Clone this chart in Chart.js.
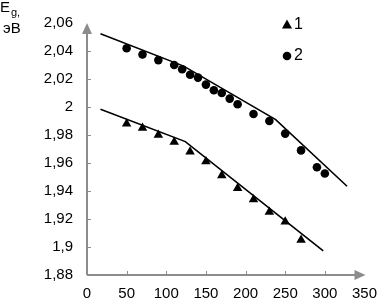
<!DOCTYPE html>
<html>
<head>
<meta charset="utf-8">
<script src="https://cdn.jsdelivr.net/npm/chart.js@4"></script>
<style>
  html, body { margin: 0; padding: 0; background: #fff; }
  #wrap { width: 387px; height: 301px; position: relative; }
</style>
</head>
<body>
<div id="wrap"><canvas id="chart"></canvas></div>
<script>
// measured points, sample 1 (triangles)
var x1 = [50, 70, 90, 110, 130, 150, 170, 190, 210, 230, 250, 270];
var y1 = [1.988, 1.985, 1.980, 1.975, 1.968, 1.961, 1.951, 1.942, 1.934, 1.925, 1.918, 1.905];

// measured points, sample 2 (circles)
var x2 = [50, 70, 90, 110, 120, 130, 140, 150, 160, 170, 180, 190, 210, 230, 250, 270, 290, 300];
var y2 = [2.042, 2.0375, 2.0335, 2.030, 2.027, 2.023, 2.021, 2.016, 2.012, 2.010, 2.006, 2.002, 1.995, 1.990, 1.981, 1.969, 1.957, 1.9525];

// broken fit lines
var fit1x = [17, 124, 298];
var fit1y = [1.9984, 1.9753, 1.8973];
var fit2x = [17, 122, 238, 328];
var fit2y = [2.0523, 2.0292, 1.991, 1.9434];

var seriesNames = ['1', '2'];
var yTitle = ['E', 'g,', 'эВ'];

function pts(xs, ys) {
  return xs.map(function (x, i) { return {x: x, y: ys[i]}; });
}

var axisColor = '#8c8c8c';
var font = "'Liberation Sans', Arial, sans-serif";

var extras = {
  id: 'extras',
  afterDraw: function (chart) {
    var ctx = chart.ctx;
    var xs = chart.scales.x, ys = chart.scales.y;
    var x0 = xs.getPixelForValue(0), yb = ys.getPixelForValue(1.88);
    var xEnd = xs.getPixelForValue(350), yTop = ys.getPixelForValue(2.06);
    ctx.save();
    ctx.strokeStyle = axisColor;
    ctx.fillStyle = axisColor;
    ctx.lineWidth = 2;
    // axes
    ctx.beginPath();
    ctx.moveTo(x0, yb); ctx.lineTo(x0, yTop + 8);
    ctx.moveTo(x0, yb); ctx.lineTo(xEnd - 8, yb);
    ctx.stroke();
    // arrows
    ctx.beginPath();
    ctx.moveTo(x0, yTop); ctx.lineTo(x0 - 5, yTop + 11); ctx.lineTo(x0 + 5, yTop + 11);
    ctx.closePath(); ctx.fill();
    ctx.beginPath();
    ctx.moveTo(xEnd + 1, yb); ctx.lineTo(xEnd - 10, yb - 5); ctx.lineTo(xEnd - 10, yb + 5);
    ctx.closePath(); ctx.fill();
    // inner ticks
    ctx.lineWidth = 1;
    ctx.beginPath();
    ys.ticks.forEach(function (t) {
      if (t.value <= 1.881 || t.value >= 2.059) return;
      var p = Math.round(ys.getPixelForValue(t.value)) + 0.5;
      ctx.moveTo(x0, p); ctx.lineTo(x0 + 4, p);
    });
    xs.ticks.forEach(function (t) {
      if (t.value <= 0 || t.value >= 350) return;
      var p = Math.round(xs.getPixelForValue(t.value)) + 0.5;
      ctx.moveTo(p, yb); ctx.lineTo(p, yb - 4);
    });
    ctx.stroke();

    // axis title E_g, эВ
    ctx.fillStyle = '#000';
    ctx.textBaseline = 'alphabetic';
    ctx.textAlign = 'left';
    ctx.font = '15px ' + font;
    ctx.fillText(yTitle[0], 0, 12);
    ctx.font = '11px ' + font;
    ctx.fillText(yTitle[1], 11, 16);
    ctx.font = '15px ' + font;
    ctx.fillText(yTitle[2], 3, 33);

    // legend
    var lx = 287, ly = [25, 56];
    ctx.fillStyle = '#000';
    ctx.beginPath();
    ctx.moveTo(lx, ly[0] - 5.5); ctx.lineTo(lx - 5, ly[0] + 3.5); ctx.lineTo(lx + 5, ly[0] + 3.5);
    ctx.closePath(); ctx.fill();
    ctx.beginPath();
    ctx.arc(lx, ly[1], 4.3, 0, Math.PI * 2); ctx.fill();
    ctx.font = '16px ' + font;
    ctx.textBaseline = 'middle';
    ctx.fillText(seriesNames[0], lx + 7, ly[0]);
    ctx.fillText(seriesNames[1], lx + 7, ly[1]);
    ctx.restore();
  }
};

var data = {
  datasets: [{
    label: seriesNames[0],
    data: pts(x1, y1),
    pointStyle: 'triangle',
    pointRadius: 5.5,
    backgroundColor: '#000',
    borderColor: '#000',
    borderWidth: 0,
    showLine: false
  }, {
    label: seriesNames[1],
    data: pts(x2, y2),
    pointStyle: 'circle',
    pointRadius: 4.3,
    backgroundColor: '#000',
    borderColor: '#000',
    borderWidth: 0,
    showLine: false
  }, {
    label: 'fit1',
    data: pts(fit1x, fit1y),
    showLine: true,
    pointRadius: 0,
    borderColor: '#000',
    borderWidth: 1.6,
    tension: 0
  }, {
    label: 'fit2',
    data: pts(fit2x, fit2y),
    showLine: true,
    pointRadius: 0,
    borderColor: '#000',
    borderWidth: 1.6,
    tension: 0
  }]
};

function comma(v) {
  return String(Math.round(v * 100) / 100).replace('.', ',');
}

new Chart(document.getElementById('chart'), {
  type: 'scatter',
  data: data,
  options: {
    responsive: true,
    maintainAspectRatio: false,
    animation: false,
    layout: { padding: { top: 7.5, right: 14, left: 0, bottom: 0 } },
    plugins: {
      legend: { display: false },
      tooltip: { enabled: false }
    },
    scales: {
      x: {
        type: 'linear',
        min: 0, max: 350,
        afterFit: function (s) { s.height = 26; },
        grid: { display: false, drawTicks: false },
        border: { display: false },
        ticks: { stepSize: 50, padding: 10, color: '#000', font: { family: font, size: 15 } }
      },
      y: {
        min: 1.88, max: 2.06,
        afterFit: function (s) { s.width = 87; },
        grid: { display: false, drawTicks: false },
        border: { display: false },
        ticks: { stepSize: 0.02, padding: 14, color: '#000', font: { family: font, size: 15 },
          callback: function (v) { return comma(v); } }
      }
    }
  },
  plugins: [extras]
});
</script>
</body>
</html>
